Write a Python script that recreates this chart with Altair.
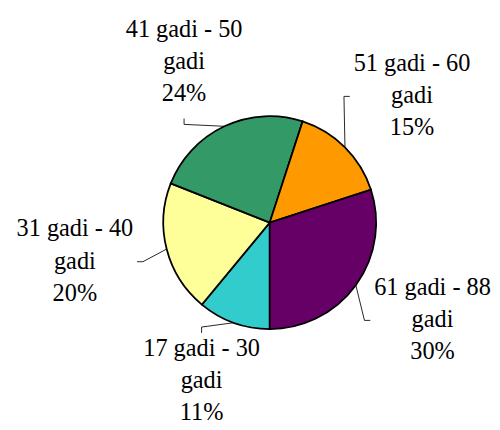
import math
import altair as alt
import pandas as pd

# ---- data ----
categories = ["17 gadi - 30 gadi", "31 gadi - 40 gadi", "41 gadi - 50 gadi",
              "51 gadi - 60 gadi", "61 gadi - 88 gadi"]
label_lines = ["17 gadi - 30\ngadi", "31 gadi - 40\ngadi", "41 gadi - 50\ngadi",
               "51 gadi - 60\ngadi", "61 gadi - 88\ngadi"]
percents = [11, 20, 24, 15, 30]
colors = ["#33CCCC", "#FFFF99", "#339966", "#FF9900", "#660066"]

# ---- layout ----
W, H = 498, 422
CX, CY = 269.3, 214.7
R = 109.5
START = math.pi          # first slice starts at 6 o'clock
RX, RY = 207, 178        # label ellipse
LH = 33                  # label line height
FS = 25

df = pd.DataFrame({"cat": categories, "value": percents, "idx": range(len(categories))})
df["text"] = [f"{l}\n{p}%" for l, p in zip(label_lines, percents)]
total = df["value"].sum()
df["mid"] = START + 2 * math.pi * (df["value"].cumsum() - df["value"] / 2) / total
df["lx"] = CX + RX * df["mid"].apply(math.sin)
df["ly"] = CY - RY * df["mid"].apply(math.cos)
df["ly_top"] = df["ly"] - LH - 5   # first line one line above the block centre

rows = []
for _, r in df.iterrows():
    s, c = math.sin(r["mid"]), math.cos(r["mid"])
    ex, ey = CX + R * s, CY - R * c
    if abs(c) > 0.75:
        sgn = 1 if c < 0 else -1      # label below -> tick points down
        t1 = (r["lx"], r["ly"] - sgn * 60)
        t2 = (r["lx"], r["ly"] - sgn * 54)
    else:
        sgn = 1 if s > 0 else -1
        t1 = (r["lx"] - sgn * 70, r["ly"] - 4)
        t2 = (r["lx"] - sgn * 64, r["ly"] - 4)
    for k, (px, py) in enumerate([(ex, ey), t1, t2]):
        rows.append({"cat": r["cat"], "k": k, "x": px, "y": py})
lead = pd.DataFrame(rows)

xs = alt.Scale(domain=[0, W], range=[0, W])
ys = alt.Scale(domain=[0, H], range=[0, H])

pie = alt.Chart(df).mark_arc(outerRadius=R, stroke="black", strokeWidth=1.8).encode(
    theta=alt.Theta("value:Q", stack=True,
                    scale=alt.Scale(range=[START, START + 2 * math.pi])),
    color=alt.Color("cat:N", scale=alt.Scale(domain=categories, range=colors), legend=None),
    order=alt.Order("idx:Q"),
    x=alt.value(CX),
    y=alt.value(CY),
)

leaders = alt.Chart(lead).mark_line(color="#222222", strokeWidth=1).encode(
    x=alt.X("x:Q", scale=xs, axis=None),
    y=alt.Y("y:Q", scale=ys, axis=None),
    detail="cat:N",
    order="k:Q",
)

labels = alt.Chart(df).mark_text(
    font="Liberation Serif",
    fontSize=FS, lineBreak="\n", lineHeight=LH,
    align="center", baseline="middle", color="black"
).encode(
    x=alt.X("lx:Q", scale=xs, axis=None),
    y=alt.Y("ly_top:Q", scale=ys, axis=None),
    text="text:N",
)

chart = alt.layer(leaders, pie, labels).properties(
    width=W, height=H, padding=0,
    autosize=alt.AutoSizeParams(type="none"),
).configure_view(stroke=None)

chart.save("out.html", embed_options={"renderer": "svg", "actions": False})
